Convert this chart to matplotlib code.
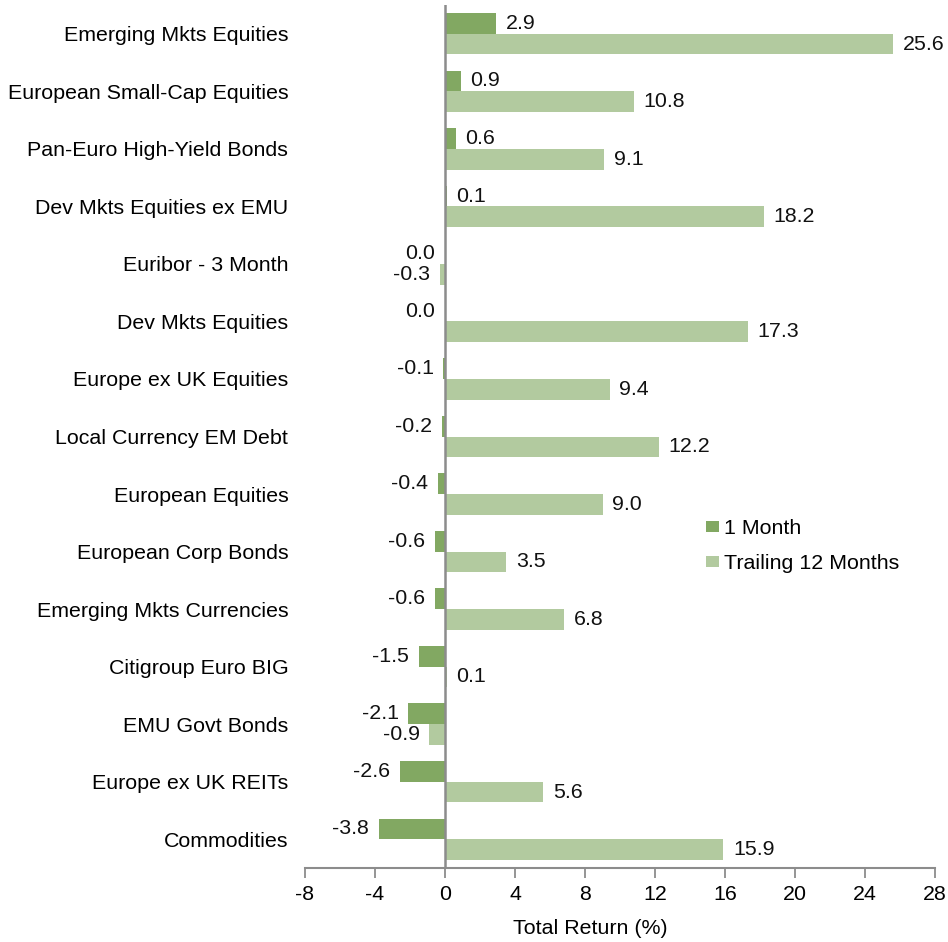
import matplotlib.pyplot as plt
import numpy as np

plt.rcParams['font.family'] = ['Liberation Sans', 'DejaVu Sans']

categories = [
    "Emerging Mkts Equities",
    "European Small-Cap Equities",
    "Pan-Euro High-Yield Bonds",
    "Dev Mkts Equities ex EMU",
    "Euribor - 3 Month",
    "Dev Mkts Equities",
    "Europe ex UK Equities",
    "Local Currency EM Debt",
    "European Equities",
    "European Corp Bonds",
    "Emerging Mkts Currencies",
    "Citigroup Euro BIG",
    "EMU Govt Bonds",
    "Europe ex UK REITs",
    "Commodities",
]
one_month = [2.9, 0.9, 0.6, 0.1, 0.0, 0.0, -0.1, -0.2, -0.4, -0.6, -0.6, -1.5, -2.1, -2.6, -3.8]
trailing_12m = [25.6, 10.8, 9.1, 18.2, -0.3, 17.3, 9.4, 12.2, 9.0, 3.5, 6.8, 0.1, -0.9, 5.6, 15.9]
series_names = ["1 Month", "Trailing 12 Months"]
xticks = [-8, -4, 0, 4, 8, 12, 16, 20, 24, 28]

dark_green = '#82a862'
light_green = '#b2ca9f'
axis_gray = '#8c8c8c'
fs = 15.4

fig = plt.figure(figsize=(9.48, 9.42), dpi=100)
ax = fig.add_axes([305 / 948, 1 - 868 / 942, 630 / 948, 863 / 942])

y = np.arange(len(categories))
h = 0.36
ax.barh(y - h / 2, one_month, height=h, color=dark_green, label=series_names[0])
ax.barh(y + h / 2, trailing_12m, height=h, color=light_green, label=series_names[1])

# value labels: outside the bar end, zero values go to the left
def put_labels(vals, offset):
    for yi, v in zip(y, vals):
        side = 1 if v > 0 else -1
        ax.annotate(f"{v:.1f}", (v, yi + offset), xytext=(7 * side, 0),
                    textcoords='offset points', ha='left' if side > 0 else 'right',
                    va='center', fontsize=fs, color='#111111')

put_labels(one_month, -h / 2)
put_labels(trailing_12m, h / 2)

ax.set_xlim(-8, 28)
ax.set_ylim(len(categories) - 0.5, -0.5)
ax.set_xticks(xticks)
ax.set_xticklabels([str(t) for t in xticks], fontsize=fs)
ax.set_yticks(y)
ax.set_yticklabels(categories, fontsize=fs)
ax.tick_params(axis='y', length=0, pad=12)
ax.tick_params(axis='x', length=7, width=1.3, color=axis_gray, pad=5)

for s in ['top', 'right', 'left']:
    ax.spines[s].set_visible(False)
ax.spines['bottom'].set_color(axis_gray)
ax.spines['bottom'].set_linewidth(1.5)
ax.axvline(0, color=axis_gray, linewidth=1.8, zorder=3)

fig.text(590 / 948, 1 - 929 / 942, "Total Return (%)", ha='center', va='center', fontsize=fs)

ax.legend(loc='upper left', bbox_to_anchor=(687 / 948, 1 - 500 / 942),
          bbox_transform=fig.transFigure, frameon=False, fontsize=fs,
          handlelength=0.6, handleheight=0.4, handletextpad=0.25, labelspacing=0.75)

fig.savefig('out.png', dpi=100)
